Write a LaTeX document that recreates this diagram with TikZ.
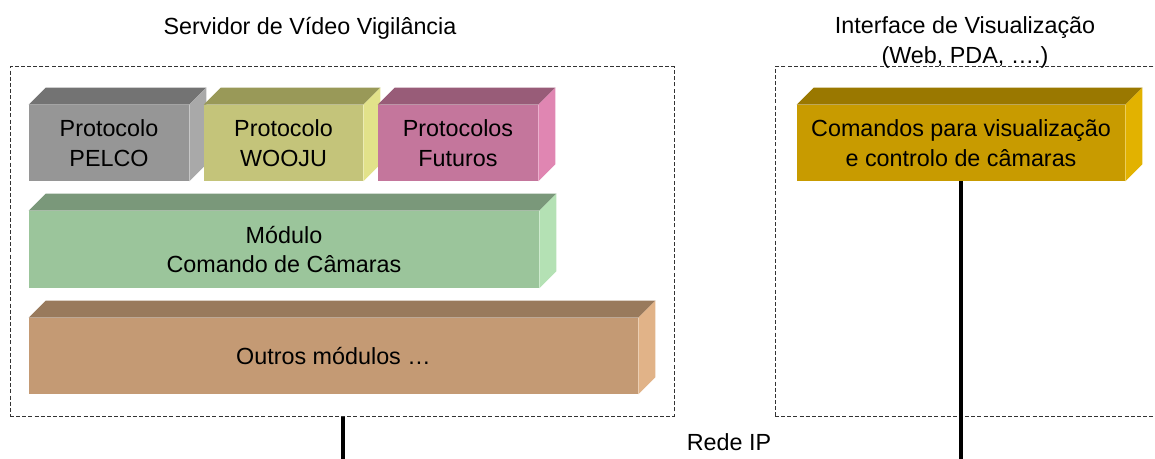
\documentclass[tikz,border=0pt]{standalone}
\usepackage{fontspec}
\setmainfont{Liberation Sans}
\usetikzlibrary{calc,fit}

% A solid block: front face as a named node, plus a top and a right face
% #1 name, #2/#3 top-left corner, #4/#5 bottom-right corner,
% #6 front, #7 top, #8 side, #9 text
\newcommand\blockbox[9]{%
  \node[blockfront, fill=#6,
        minimum width={(#4-#2)*0.75pt}, minimum height={(#5-#3)*0.75pt}]
        (#1) at ({(#2+#4)/2},{(#3+#5)/2}) {#9};
  \fill[#7] (#1.north west) -- ++(\bdepth,-\bdepth)
        -- ($(#1.north east)+(\bdepth,-\bdepth)$) -- (#1.north east) -- cycle;
  \fill[#8] (#1.north east) -- ++(\bdepth,-\bdepth)
        -- ($(#1.south east)+(\bdepth,-\bdepth)$) -- (#1.south east) -- cycle;
}
\newcommand\bdepth{17}

\definecolor{pelcoF}{HTML}{969696}\definecolor{pelcoT}{HTML}{737373}\definecolor{pelcoS}{HTML}{A9A9A9}
\definecolor{woojuF}{HTML}{C4C47A}\definecolor{woojuT}{HTML}{999958}\definecolor{woojuS}{HTML}{E2E28A}
\definecolor{futF}{HTML}{C4769C}\definecolor{futT}{HTML}{985C78}\definecolor{futS}{HTML}{E086B2}
\definecolor{modF}{HTML}{9BC59B}\definecolor{modT}{HTML}{7A987A}\definecolor{modS}{HTML}{B4E1B4}
\definecolor{outF}{HTML}{C49A74}\definecolor{outT}{HTML}{997A5C}\definecolor{outS}{HTML}{E1B388}
\definecolor{visF}{HTML}{C89B00}\definecolor{visT}{HTML}{9A7800}\definecolor{visS}{HTML}{E2B200}

\begin{document}
\begin{tikzpicture}[x=0.75pt, y=-0.75pt,
  font=\fontsize{17.5}{22}\selectfont,
  blockfront/.style={inner sep=0pt, draw=none, align=center},
  groupbox/.style={draw=black!80, line width=0.75pt, dash pattern=on 3pt off 1.6pt},
  netline/.style={line width=2.6pt, black},
  caption/.style={align=center, inner sep=0pt}]

\useasboundingbox (0,0) rectangle (1155,459);

% dashed grouping frames
\node[groupbox, fit={(10,67) (674,416)}, inner sep=0pt] (server) {};
\node[groupbox, fit={(775,67) (1170,416)}, inner sep=0pt] (client) {};

% captions
\node[caption] (servertitle) at (310,28) {Servidor de Vídeo Vigilância};
\node[caption] (clienttitle) at (965,42.5) {Interface de Visualização\\(Web, PDA, ….)};
\node[caption] (net) at (729,442) {Rede IP};

% server modules
\blockbox{pelco}{29}{105}{189}{181}{pelcoF}{pelcoT}{pelcoS}{Protocolo\\PELCO}
\blockbox{wooju}{204}{105}{363}{181}{woojuF}{woojuT}{woojuS}{Protocolo\\WOOJU}
\blockbox{futuros}{378}{105}{538}{181}{futF}{futT}{futS}{Protocolos\\Futuros}
\blockbox{modulo}{29}{211}{539}{288}{modF}{modT}{modS}{Módulo\\Comando de Câmaras}
\blockbox{outros}{29}{318}{638}{394}{outF}{outT}{outS}{Outros módulos …}

% viewer commands
\blockbox{comandos}{797}{105}{1125}{181}{visF}{visT}{visS}{Comandos para visualização\\e controlo de câmaras}

% IP network links
\coordinate (serverend) at (343,459);
\coordinate (clientend) at (961,459);
\draw[netline] (server.south -| serverend) -- (serverend);
\draw[netline] (comandos.south) -- (comandos.south |- clientend);
\end{tikzpicture}
\end{document}
